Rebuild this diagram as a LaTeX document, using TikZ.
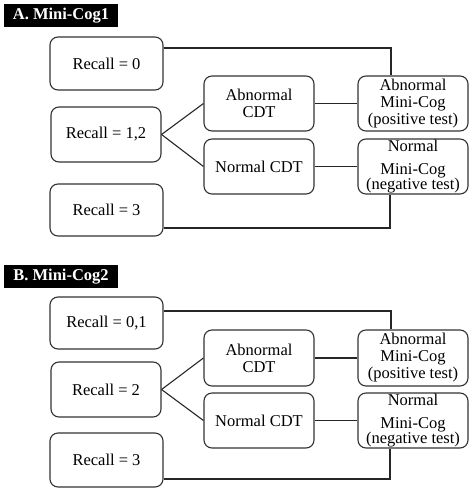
\documentclass[tikz,border=0pt]{standalone}
\usepackage{fontspec}
\setmainfont{Liberation Serif}
\begin{document}
\begin{tikzpicture}[x=1pt,y=-1pt,
  box/.style={draw=black!80, line width=1.1pt, rounded corners=8pt, inner sep=0pt,
    minimum width=110pt, minimum height=55pt, align=center,
    font=\fontsize{16.5}{17}\selectfont},
  wbox/.style={box, minimum width=113pt},
  ttl/.style={fill=black, text=white, inner sep=0pt, minimum width=114pt, minimum height=23pt,
    font=\fontsize{16.5}{17}\selectfont\bfseries},
  conn/.style={draw=black!85, line width=1.1pt}]
\useasboundingbox (0,0) rectangle (474,493);
% ---------- Panel A
\node[ttl] (tA) at (61,15.5) {A. Mini-Cog1};
\node[wbox, minimum height=53pt] (r0A) at (106.5,63.5) {Recall = 0};
\node[box] (r12A) at (106,134.5) {Recall = 1,2};
\node[wbox, minimum height=52pt] (r3A) at (106.5,210) {Recall = 3};
\node[box] (acA) at (259,103.5) {Abnormal\\CDT};
\node[box] (ncA) at (259,166.5) {Normal CDT};
\node[box] (amA) at (413,103.5) {Abnormal\\Mini-Cog\\(positive test)};
\node[box] (nmA) at (413,166.5) {Normal\\[6pt]Mini-Cog\\[-2pt](negative test)};
\coordinate (cA1) at (391,48);
\coordinate (cA2) at (390,228);
\draw[conn] (r0A.east |- cA1) -- (cA1) -- (amA.north -| cA1);
\draw[conn] (r3A.east |- cA2) -- (cA2) -- (nmA.south -| cA2);
\draw[conn] (r12A.east) -- (acA.west);
\draw[conn] (r12A.east) -- (ncA.west);
\draw[conn] (acA.east) -- (amA.west);
\draw[conn] (ncA.east) -- (nmA.west);
% ---------- Panel B
\node[ttl] (tB) at (61,276.5) {B. Mini-Cog2};
\node[wbox, minimum height=52pt] (r01B) at (106.5,323) {Recall = 0,1};
\node[box] (r2B) at (106,389.5) {Recall = 2};
\node[wbox, minimum height=54pt] (r3B) at (106.5,460) {Recall = 3};
\node[box, minimum height=56pt] (acB) at (259,358) {Abnormal\\CDT};
\node[box] (ncB) at (259,420.5) {Normal CDT};
\node[box, minimum height=56pt] (amB) at (413,358) {Abnormal\\Mini-Cog\\(positive test)};
\node[box] (nmB) at (413,420.5) {Normal\\[6pt]Mini-Cog\\[-2pt](negative test)};
\coordinate (cB1) at (391,311);
\coordinate (cB2) at (390,479);
\draw[conn] (r01B.east |- cB1) -- (cB1) -- (amB.north -| cB1);
\draw[conn] (r3B.east |- cB2) -- (cB2) -- (nmB.south -| cB2);
\draw[conn] (r2B.east) -- (acB.west);
\draw[conn] (r2B.east) -- (ncB.west);
\draw[conn] (acB.east) -- (amB.west);
\draw[conn] (ncB.east) -- (nmB.west);
\end{tikzpicture}
\end{document}
